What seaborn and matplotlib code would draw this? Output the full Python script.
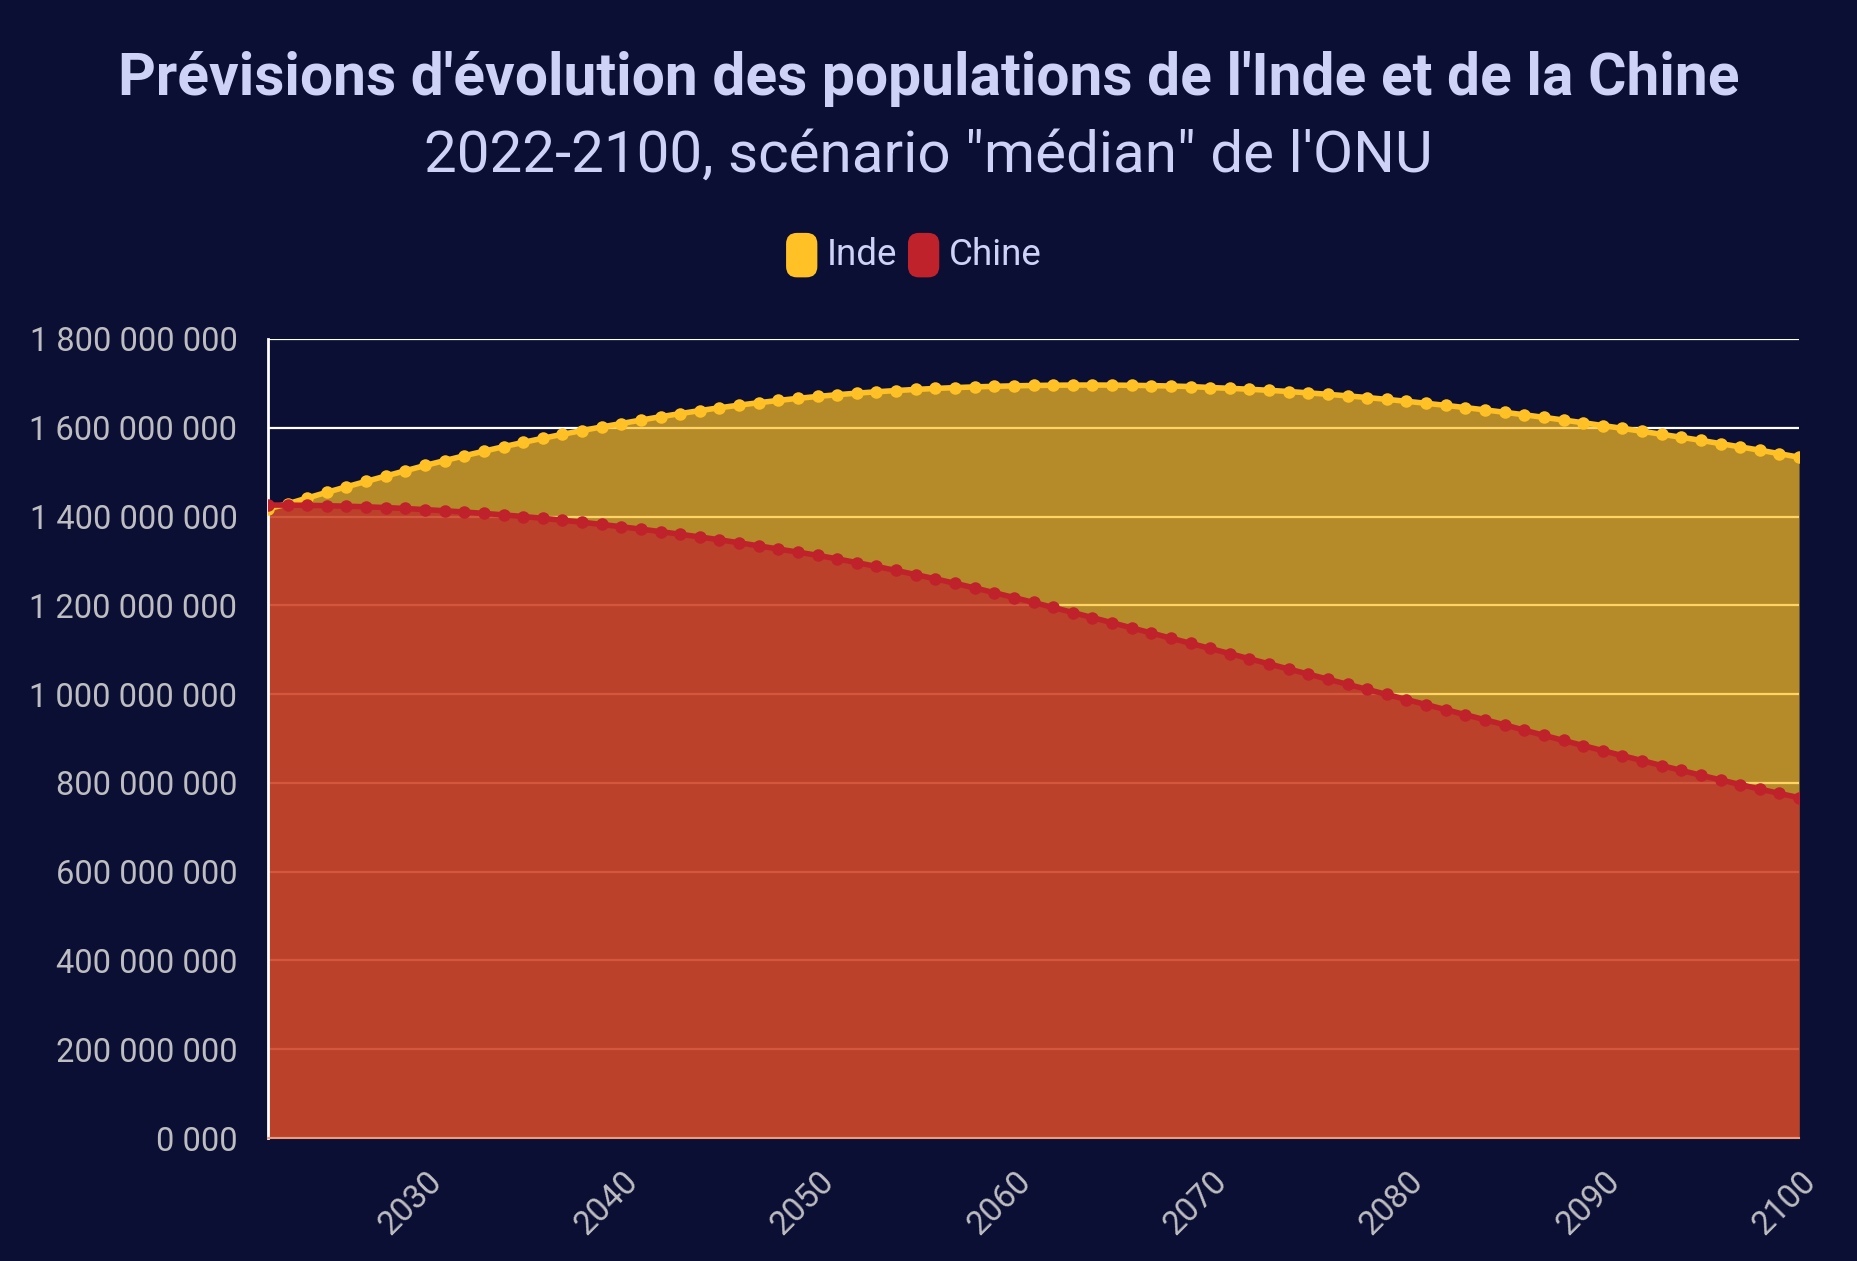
import pandas as pd
import matplotlib.pyplot as plt
import seaborn as sb
from matplotlib import font_manager
from matplotlib.patches import Patch, FancyBboxPatch
from matplotlib.legend_handler import HandlerPatch
from matplotlib.ticker import FuncFormatter
from matplotlib.transforms import ScaledTranslation

# Données : projections ONU (scénario médian), en millions d'habitants
annees = list(range(2022, 2101))

inde = [1417.2, 1428.6, 1441.7, 1454.6, 1467.0, 1479.2, 1491.2, 1503.1, 1515.0,
        1526.0, 1536.8, 1547.2, 1557.3, 1567.0, 1576.3, 1585.2, 1593.7, 1601.8, 1609.5,
        1617.3, 1624.8, 1631.9, 1638.6, 1645.0, 1650.9, 1656.4, 1661.5, 1666.2, 1670.5,
        1674.4, 1677.9, 1681.0, 1683.8, 1686.3, 1688.5, 1690.4, 1692.0, 1693.3, 1694.4,
        1695.2, 1695.8, 1696.1, 1696.2, 1696.0, 1695.6, 1694.9, 1694.0, 1692.8, 1690.6,
        1688.8, 1686.7, 1684.3, 1681.6, 1678.6, 1675.3, 1671.8, 1668.0, 1663.9, 1659.6,
        1655.1, 1650.4, 1645.4, 1640.2, 1634.8, 1629.2, 1623.4, 1617.4, 1611.3, 1605.0,
        1598.6, 1592.0, 1585.3, 1578.5, 1571.6, 1564.2, 1556.9, 1549.4, 1541.6, 1533.6]

chine = [1425.9, 1425.7, 1425.2, 1424.4, 1423.3, 1421.9, 1420.2, 1418.1, 1415.6,
         1413.0, 1410.2, 1407.1, 1403.7, 1400.0, 1396.0, 1391.7, 1387.1, 1382.2, 1377.0,
         1371.6, 1366.0, 1360.1, 1354.0, 1347.6, 1340.9, 1334.0, 1326.8, 1319.8, 1312.6,
         1304.6, 1296.2, 1287.5, 1278.5, 1269.2, 1259.6, 1249.6, 1239.2, 1228.5, 1217.6,
         1206.5, 1195.2, 1183.8, 1172.3, 1160.8, 1149.2, 1137.6, 1126.0, 1114.4, 1102.8,
         1091.2, 1079.6, 1068.0, 1056.5, 1045.0, 1033.5, 1022.0, 1010.6, 999.2, 987.8,
         976.4, 965.0, 953.6, 942.2, 930.8, 918.8, 907.2, 895.6, 884.1, 872.7,
         861.4, 850.2, 839.1, 828.1, 817.3, 806.7, 796.3, 786.1, 776.2, 766.7]

df = pd.DataFrame({"annee": annees,
                   "Inde": [v * 1e6 for v in inde],
                   "Chine": [v * 1e6 for v in chine]})

fond = "#0B0F33"
texte = "#CFD2F7"
gris = "#BDBDC2"
c_inde = "#FFC125"
c_chine = "#C0222B"

sb.set_style("dark")
# police étroite si dispo (proche du Roboto Condensed d'origine)
dispo = {f.name for f in font_manager.fontManager.ttflist}
police = "Liberation Sans Narrow" if "Liberation Sans Narrow" in dispo else "Roboto"
plt.rcParams["font.family"] = [police, "DejaVu Sans"]

fig = plt.figure(figsize=(18.57, 12.61), dpi=100, facecolor=fond)
ax = fig.add_axes([0.1443, 0.0975, 0.8245, 0.6337])
ax.set_facecolor(fond)

# aires remplies jusqu'à l'origine
ax.fill_between(df["annee"], df["Inde"], color=c_inde, alpha=0.7, lw=0, zorder=1)
ax.fill_between(df["annee"], df["Chine"], color=c_chine, alpha=0.7, lw=0, zorder=1.1)

sb.lineplot(data=df, x="annee", y="Inde", ax=ax, color=c_inde, linewidth=4,
            marker="o", markersize=9, markeredgewidth=0, zorder=3)
sb.lineplot(data=df, x="annee", y="Chine", ax=ax, color=c_chine, linewidth=4,
            marker="o", markersize=9, markeredgewidth=0, zorder=4)

ax.set_xlim(2022, 2100)
ax.set_ylim(0, 1.8e9)
ax.set_xticks(range(2030, 2101, 10))
ax.set_yticks([i * 2e8 for i in range(10)])
ax.yaxis.set_major_formatter(FuncFormatter(
    lambda v, p: "0 000" if v == 0 else f"{int(round(v)):,}".replace(",", " ")))

ax.yaxis.grid(True, color="white", linewidth=1.6)
ax.xaxis.grid(False)
ax.set_axisbelow(True)
for s in ["top", "right"]:
    ax.spines[s].set_visible(False)
ax.spines["left"].set_color("white")
ax.spines["left"].set_linewidth(2)
ax.spines["bottom"].set_color("#EE9A7E")
ax.spines["bottom"].set_linewidth(1.5)

ax.tick_params(axis="y", colors="white", labelcolor=gris, length=14, width=2,
               pad=8, labelsize=23.5)
ax.tick_params(axis="x", colors="white", labelcolor=gris, length=14, width=2,
               pad=14, labelsize=24)
decal = ScaledTranslation(0.12, 0, fig.dpi_scale_trans)
for lab in ax.get_xticklabels():
    lab.set_rotation(45)
    lab.set_ha("right")
    lab.set_va("center")
    lab.set_rotation_mode("anchor")
    lab.set_transform(lab.get_transform() + decal)
ax.set_xlabel("")
ax.set_ylabel("")

# titres
fig.text(0.5, 0.925, "Prévisions d'évolution des populations de l'Inde et de la Chine",
         ha="center", va="baseline", fontsize=42.3, fontweight="bold", color=texte)
fig.text(0.5, 0.864, "2022-2100, scénario \"médian\" de l'ONU",
         ha="center", va="baseline", fontsize=42, color=texte)


# légende avec pastilles arrondies
def pastille(legend, orig_handle, xdescent, ydescent, width, height, fontsize):
    return FancyBboxPatch((-xdescent, -ydescent - 0.25 * height), width, height * 1.35,
                          boxstyle=f"round,pad=0,rounding_size={width * 0.35}")


fig.legend(handles=[Patch(facecolor=c_inde, edgecolor="none", label="Inde"),
                    Patch(facecolor=c_chine, edgecolor="none", label="Chine")],
           handler_map={Patch: HandlerPatch(patch_func=pastille)},
           loc="center", bbox_to_anchor=(0.492, 0.798), ncol=2, frameon=False,
           fontsize=26.5, labelcolor=texte, handlelength=0.85, handleheight=1.0,
           handletextpad=0.25, columnspacing=0.3)

fig.savefig("out.png", dpi=100, facecolor=fond)
